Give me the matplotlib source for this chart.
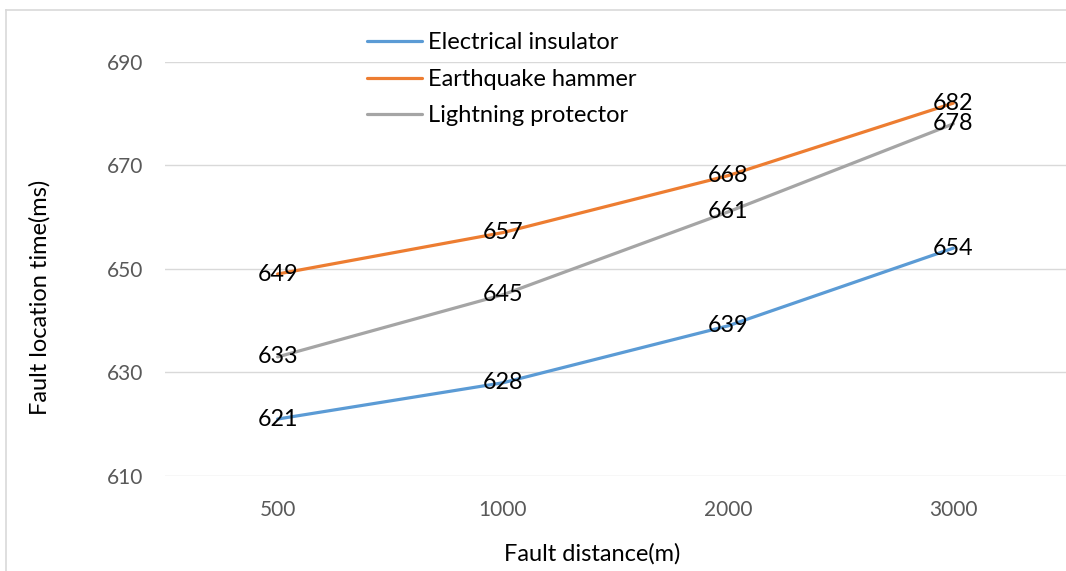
import matplotlib.pyplot as plt
from matplotlib.lines import Line2D

distances = ['500', '1000', '2000', '3000']
insulator = [621, 628, 639, 654]
hammer = [649, 657, 668, 682]
protector = [633, 645, 661, 678]
series_names = ['Electrical insulator', 'Earthquake hammer', 'Lightning protector']
colors = ['#5B9BD5', '#ED7D31', '#A5A5A5']
y_ticks = [610, 630, 650, 670, 690]

plt.rcParams['font.family'] = ['Lato', 'DejaVu Sans']

W, H = 1066, 571
fig = plt.figure(figsize=(W / 100, H / 100), dpi=100)
ax = fig.add_axes([165 / W, 1 - 476 / H, 901 / W, (476 - 61.7) / H])

x = list(range(len(distances)))
for vals, name, col in zip([insulator, hammer, protector], series_names, colors):
    ax.plot(x, vals, color=col, lw=2.3, label=name, solid_capstyle='round', zorder=3)
    for xi, v in zip(x, vals):
        ax.text(xi, v, str(v), ha='center', va='center', fontsize=16.8, color='black', zorder=4)

ax.set_xlim(-0.5, 3.5)
ax.set_ylim(610, 690)
ax.set_yticks(y_ticks)
ax.set_xticks(x)
ax.set_xticklabels(distances)
ax.grid(axis='y', color='#D9D9D9', lw=1.0, zorder=0)
for s in ax.spines.values():
    s.set_visible(False)
ax.tick_params(axis='both', length=0, labelsize=15, colors='#595959')
ax.tick_params(axis='x', pad=17)
ax.tick_params(axis='y', pad=16)

fig.text(592 / W, 1 - 554 / H, 'Fault distance(m)', fontsize=17, color='black',
         ha='center', va='center')
fig.text(40 / W, 1 - 297 / H, 'Fault location time(ms)', fontsize=17, color='black',
         ha='center', va='center', rotation=90)

leg = ax.legend(loc='upper left', bbox_to_anchor=(346 / W, 1 - 11 / H), bbox_transform=fig.transFigure,
                frameon=False, fontsize=17, handlelength=2.3, handletextpad=0.28, labelspacing=0.66)
for t in leg.get_texts():
    t.set_color('black')

# outer chart border (cropped on right and bottom)
fig.add_artist(Line2D([6 / W, 6 / W], [1 - 10 / H, 0], color='#D9D9D9', lw=1.2, transform=fig.transFigure))
fig.add_artist(Line2D([6 / W, 1], [1 - 10 / H, 1 - 10 / H], color='#D9D9D9', lw=1.2, transform=fig.transFigure))

fig.savefig('out.png', dpi=100)
